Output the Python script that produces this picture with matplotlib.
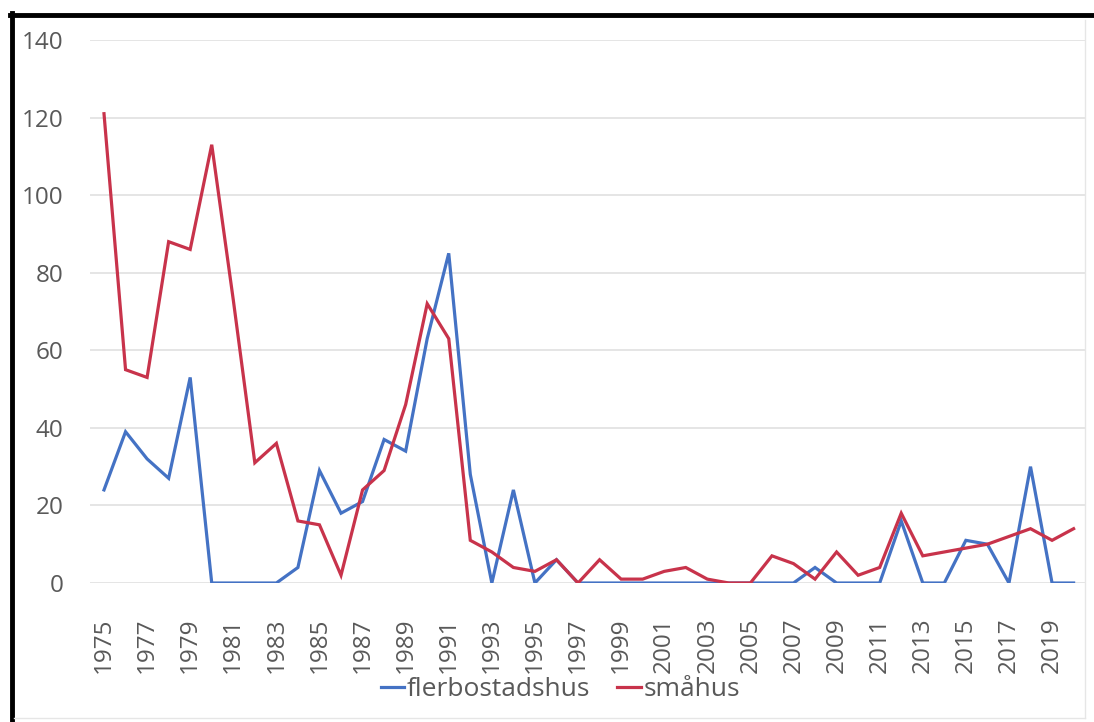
import matplotlib
matplotlib.use("Agg")
import matplotlib.pyplot as plt
from matplotlib.lines import Line2D

years = list(range(1975, 2021))
flerbostadshus = [24, 39, 32, 27, 53, 0, 0, 0, 0, 4,
                  29, 18, 21, 37, 34, 63, 85, 28, 0, 24,
                  0, 6, 0, 0, 0, 0, 0, 0, 0, 0,
                  0, 0, 0, 4, 0, 0, 0, 16, 0, 0,
                  11, 10, 0, 30, 0, 0]
smahus = [121, 55, 53, 88, 86, 113, 73, 31, 36, 16,
          15, 2, 24, 29, 46, 72, 63, 11, 8, 4,
          3, 6, 0, 6, 1, 1, 3, 4, 1, 0,
          0, 7, 5, 1, 8, 2, 4, 18, 7, 8,
          9, 10, 12, 14, 11, 14]
series_names = ["flerbostadshus", "småhus"]
tick_years = list(range(1975, 2021, 2))
y_ticks = list(range(0, 141, 20))

plt.rcParams['font.family'] = ['Open Sans', 'DejaVu Sans']
text_color = "#595959"

W, H = 1094, 722
fig = plt.figure(figsize=(W / 100, H / 100), dpi=100)
left, right, bottom, top = 90, 1085, 583, 40
ax = fig.add_axes([left / W, 1 - bottom / H, (right - left) / W, (bottom - top) / H])

ax.plot(years, flerbostadshus, color="#4472C4", lw=2.3, label=series_names[0],
        solid_joinstyle="miter")
ax.plot(years, smahus, color="#C8334B", lw=2.3, label=series_names[1],
        solid_joinstyle="miter")

px_per_year = (1073.6 - 104) / 45
ax.set_xlim(1975 - (104 - left) / px_per_year, 2020 + (right - 1073.6) / px_per_year)
ax.set_ylim(0, 140)
ax.set_yticks(y_ticks)
ax.set_xticks(tick_years)
ax.set_xticklabels([str(y) for y in tick_years], rotation=90, fontsize=17.5,
                   color=text_color)
ax.set_yticklabels([str(v) for v in y_ticks], fontsize=17.5, color=text_color)
ax.tick_params(axis="x", length=0, pad=25)
ax.tick_params(axis="y", length=0, pad=19)
ax.grid(axis="y", color="#E3E3E3", lw=1.3)
ax.set_axisbelow(True)
for s in ax.spines.values():
    s.set_visible(False)

leg = fig.legend(loc="center", bbox_to_anchor=(0.512, 1 - 690 / H), ncol=2,
                 frameon=False, fontsize=19, handlelength=0.9, handletextpad=0.1,
                 columnspacing=1.0)
for t in leg.get_texts():
    t.set_color(text_color)

# frame lines
fig.add_artist(Line2D([10 / W, 1], [1 - 15 / H, 1 - 15 / H], color="black", lw=3.5,
                      transform=fig.transFigure))
fig.add_artist(Line2D([12 / W, 12 / W], [0, 1 - 13 / H], color="black", lw=3.5,
                      transform=fig.transFigure))
fig.add_artist(Line2D([1085 / W, 1085 / W], [1 - 718 / H, 1 - 20 / H], color="#E6E6E6",
                      lw=1, transform=fig.transFigure))
fig.add_artist(Line2D([14 / W, 1085 / W], [1 - 718 / H, 1 - 718 / H], color="#E6E6E6",
                      lw=1, transform=fig.transFigure))

fig.savefig("out.png", dpi=100)
